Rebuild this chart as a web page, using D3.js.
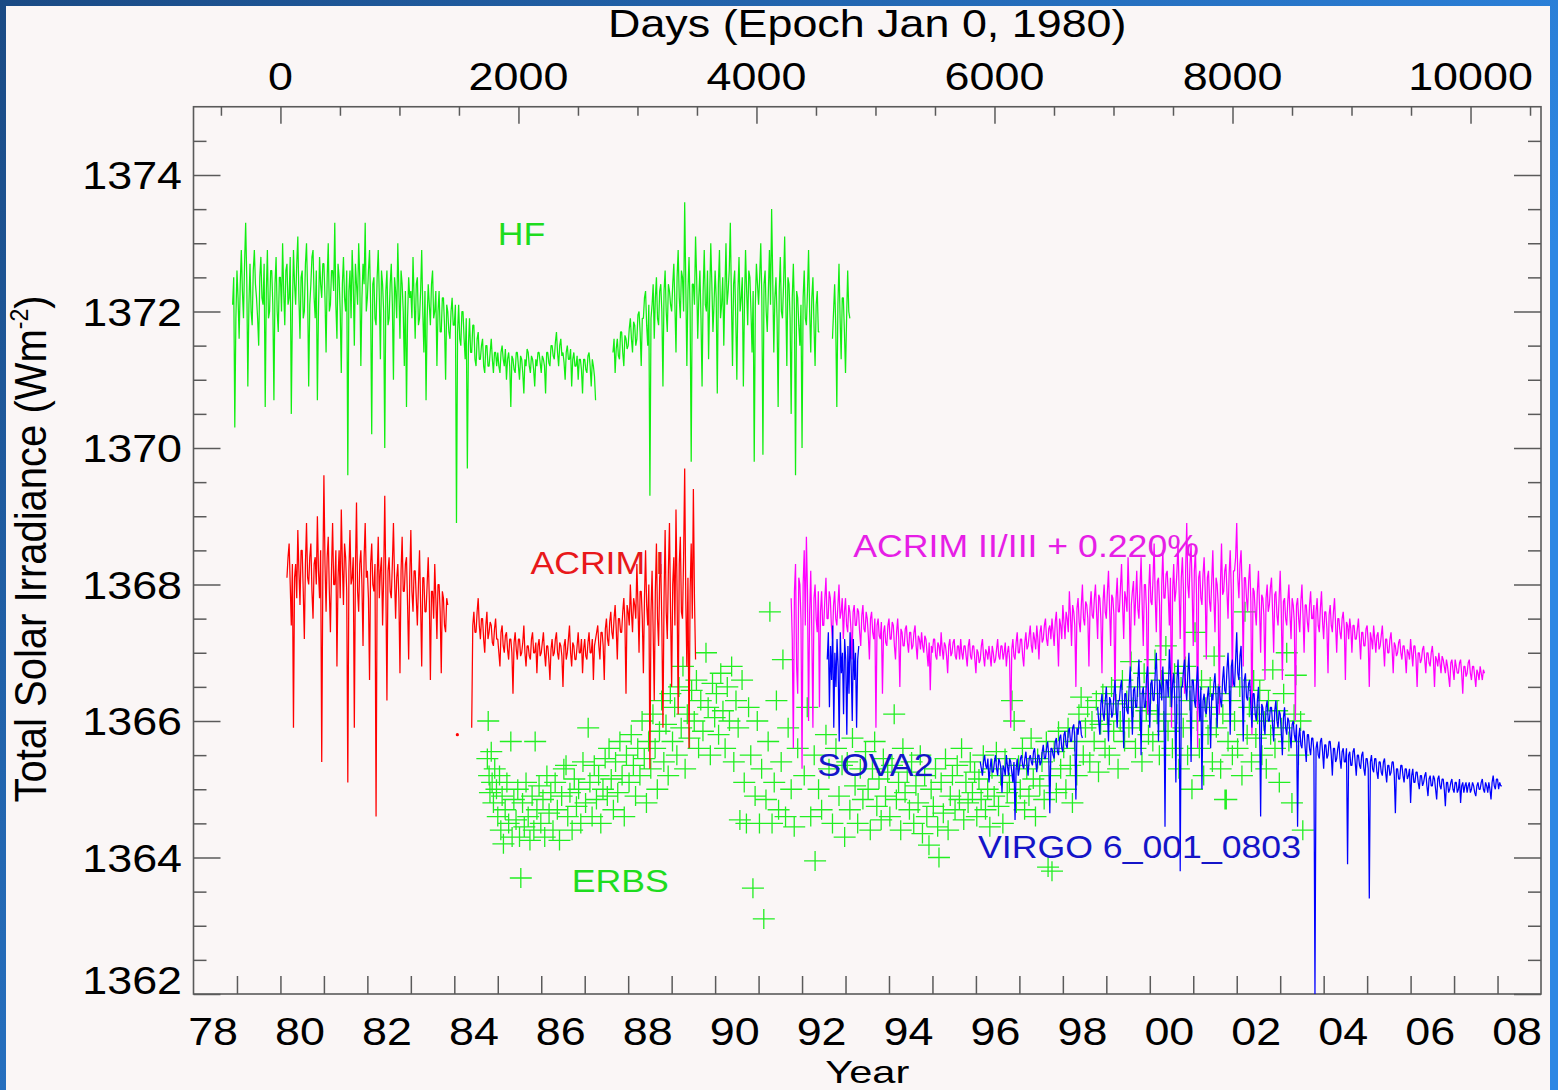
<!DOCTYPE html>
<html>
<head>
<meta charset="utf-8">
<script src="https://cdn.jsdelivr.net/npm/d3@7"></script>
<style>
  html, body { margin: 0; padding: 0; background: #ffffff; }
  svg { display: block; }
  text { font-family: "Liberation Sans", Arial, Helvetica, sans-serif; }
</style>
</head>
<body>
<svg id="chart" width="1558" height="1090"></svg>
<script>
// ---------------- axis ticks and labels ----------------
const yearTicks = d3.range(1979, 2009);
const yearLabelYears = [1978, 1980, 1982, 1984, 1986, 1988, 1990, 1992, 1994, 1996, 1998, 2000, 2002, 2004, 2006, 2008];
const yearLabels = ["78", "80", "82", "84", "86", "88", "90", "92", "94", "96", "98", "00", "02", "04", "06", "08"];
const dayMajor = [0, 2000, 4000, 6000, 8000, 10000];
const dayMinor = [-500, 500, 1000, 1500, 2500, 3000, 3500, 4500, 5000, 5500, 6500, 7000, 7500, 8500, 9000, 9500, 10500];
const irrMajor = [1362, 1364, 1366, 1368, 1370, 1372, 1374];
const irrMinor = [1362.5, 1363, 1363.5, 1364.5, 1365, 1365.5, 1366.5, 1367, 1367.5, 1368.5, 1369, 1369.5,
                  1370.5, 1371, 1371.5, 1372.5, 1373, 1373.5, 1374.5];

// ---------------- irradiance records (W m^-2) ----------------
// Evenly sampled records: first sample time (decimal year), spacing 0.025 yr.
const sampleStep = 0.025;

// Nimbus-7 HF
const hfStart = 1978.90;
const hf = [
  1372.1,1372.5, 1370.3,1371.9,
  // 1979
  1372.6,1372.2, 1371.6,1372.4, 1372.9,1372.3, 1371.9,1372.7, 1373.3,1372.5, 1370.9,1372.1, 1372.7,1372.0, 1371.8,1372.6, 1372.9,1372.4, 1372.2,1371.9, 1371.5,1372.5, 1372.8,1372.2, 1372.1,1372.7, 1370.6,1372.3, 1372.9,1371.9, 1372.0,1372.6, 1372.6,1372.1, 1370.7,1372.4, 1372.8,1372.0, 1371.7,1372.5,
  // 1980
  1372.5,1372.0, 1373.0,1372.3, 1371.8,1372.6, 1372.7,1372.1, 1372.2,1372.8, 1370.5,1372.0, 1372.9,1372.4, 1372.1,1372.7, 1373.1,1372.2, 1371.6,1372.5, 1372.6,1371.9, 1372.0,1372.7, 1373.0,1372.3, 1370.9,1372.1, 1372.4,1372.8, 1372.9,1372.2, 1371.9,1372.6, 1370.7,1372.0, 1372.8,1372.4, 1372.2,1372.7,
  // 1981
  1372.7,1372.2, 1371.4,1372.5, 1373.0,1372.0, 1372.1,1372.6, 1372.6,1372.3, 1373.3,1372.1, 1371.6,1372.7, 1372.5,1372.0, 1371.1,1372.4, 1372.8,1372.2, 1372.0,1372.6, 1369.6,1372.3, 1372.6,1371.9, 1372.9,1372.4, 1371.5,1372.7, 1372.4,1372.1, 1373.0,1372.5, 1371.2,1372.2, 1372.7,1372.4, 1373.3,1372.0,
  // 1982
  1372.2,1372.6, 1372.9,1372.1, 1370.2,1372.4, 1372.5,1371.9, 1371.8,1372.5, 1372.9,1372.2, 1371.3,1372.6, 1372.4,1372.0, 1370.0,1372.3, 1372.6,1371.8, 1371.9,1372.4, 1372.7,1372.1, 1371.0,1372.5, 1372.3,1371.9, 1373.0,1372.3, 1371.6,1372.6, 1372.4,1372.0, 1371.2,1372.3, 1370.6,1371.9, 1372.5,1372.2,
  // 1983
  1372.3,1371.9, 1372.8,1372.2, 1371.6,1372.4, 1372.5,1371.8, 1371.9,1372.3, 1372.9,1372.0, 1371.4,1372.3, 1370.7,1371.9, 1372.4,1372.1, 1371.8,1372.4, 1372.6,1371.9, 1372.0,1372.3, 1371.2,1372.0, 1372.3,1371.7, 1371.7,1372.2, 1372.2,1371.8, 1371.0,1372.1, 1372.0,1371.7, 1371.6,1372.0, 1372.2,1371.8,
  // 1984
  1371.8,1372.1, 1368.9,1371.7, 1372.1,1371.6, 1371.5,1372.0, 1372.0,1371.6, 1371.3,1371.9, 1369.7,1371.5, 1371.9,1371.4, 1371.4,1371.8, 1371.8,1371.3, 1371.2,1371.6, 1371.7,1371.3, 1371.3,1371.5, 1371.6,1371.2, 1371.1,1371.5, 1371.5,1371.2, 1371.2,1371.4, 1371.6,1371.3, 1371.1,1371.4, 1371.4,1371.2,
  // 1985
  1371.4,1371.2, 1371.1,1371.4, 1371.5,1371.3, 1371.2,1371.45, 1371.0,1371.3, 1371.4,1371.2, 1370.6,1371.35, 1371.3,1371.15, 1371.1,1371.4, 1371.4,1371.2, 1371.0,1371.35, 1371.3,1371.1, 1370.8,1371.3, 1371.2,1371.45, 1371.4,1371.2, 1371.1,1371.35, 1371.3,1371.15, 1370.9,1371.3, 1371.2,1371.4, 1371.4,1371.25,
  // 1986
  1371.1,1371.35, 1371.3,1371.2, 1370.8,1371.4, 1371.4,1371.25, 1371.2,1371.5, 1371.5,1371.35, 1371.3,1371.55, 1371.7,1371.4, 1371.2,1371.5, 1371.6,1371.35, 1371.4,1371.25, 1371.0,1371.4, 1371.5,1371.3, 1371.3,1371.45, 1370.9,1371.3, 1371.4,1371.2, 1371.2,1371.35, 1371.0,1371.3, 1371.3,1371.15, 1370.8,1371.3,
  // 1987 (data gap in spring/summer)
  1371.3,1371.15, 1371.1,1371.35, 1371.4,1371.2, 1370.9,1371.3, 1371.2,1371.05, 1370.7,null,
  null,null, null,null, null,null, null,null, null,null, null,null, null,null,
  1371.4,1371.6, 1371.1,1371.45, 1371.6,1371.35, 1371.3,1371.7, 1371.7,1371.4, 1371.2,1371.65, 1371.6,1371.45,
  // 1988
  1371.5,1371.75, 1371.9,1371.6, 1371.4,1371.85, 1371.8,1371.5, 1371.6,1371.95, 1372.0,1371.7, 1371.2,1371.9, 1371.9,1372.2, 1372.3,1371.8, 1371.5,1372.1, 1369.3,1371.9, 1372.1,1372.4, 1371.6,1372.2, 1372.5,1371.9, 1371.8,1372.3, 1372.4,1372.0, 1370.9,1372.3, 1372.6,1372.0, 1371.7,1372.4, 1372.3,1372.1,
  // 1989
  1372.0,1372.4, 1372.7,1372.1, 1371.4,1372.5, 1372.9,1372.2, 1371.9,1372.6, 1372.5,1372.0, 1373.6,1372.4, 1371.2,1372.3, 1372.8,1372.0, 1369.8,1372.4, 1372.4,1372.1, 1373.1,1372.5, 1371.6,1372.2, 1372.6,1371.9, 1370.9,1372.3, 1372.9,1372.1, 1372.0,1372.6, 1371.3,1372.2, 1373.0,1372.4, 1371.7,1372.1,
  // 1990
  1372.6,1372.2, 1370.8,1372.4, 1372.9,1371.9, 1372.1,1372.5, 1371.5,1372.3, 1373.0,1372.1, 1372.3,1372.6, 1373.3,1372.2, 1371.2,1372.4, 1372.6,1371.9, 1371.0,1372.3, 1372.8,1372.0, 1372.2,1372.5, 1370.9,1372.1, 1372.9,1372.3, 1371.8,1372.6, 1372.5,1372.0, 1371.4,1372.3, 1369.8,1372.1, 1372.7,1372.4,
  // 1991
  1372.1,1372.5, 1373.0,1372.2, 1369.9,1372.4, 1372.6,1372.0, 1371.7,1372.3, 1372.9,1372.1, 1373.5,1372.5, 1371.4,1372.2, 1372.5,1371.9, 1370.6,1372.3, 1372.8,1372.0, 1371.9,1372.4, 1373.1,1372.2, 1371.2,1372.5, 1372.4,1371.9, 1370.5,1372.2, 1372.7,1372.0, 1369.6,1372.3, 1372.2,1371.8, 1371.5,1372.1,
  // 1992 (data gap in summer)
  1370.0,1372.2, 1372.6,1371.9, 1371.8,1372.3, 1372.9,1372.0, 1371.4,1372.2, 1372.5,1371.8, 1371.2,1372.1, 1372.3,1371.7, 1371.7,null,
  null,null, null,null, null,null, null,null, null,null,
  1371.6,1372.0, 1372.4,1371.8, 1370.6,1372.1, 1372.7,1371.9, 1371.3,1372.2, 1372.2,1371.7,
  // 1993
  1371.1,1371.9, 1372.6,1372.0, 1371.9
];

// ACRIM I (two operating periods)
const acrim1aStart = 1980.15;
const acrim1a = [
  1368.1,1368.4, 1368.6,1368.0, 1367.4,1368.3, 1365.9,1368.1, 1368.3,1367.8, 1368.8,1368.2, 1367.7,1368.5, 1368.5,1367.9, 1367.2,1368.3, 1368.9,1368.1,
  1368.0,1368.4, 1368.6,1367.9, 1367.5,1368.3, 1368.4,1368.0, 1369.0,1368.2, 1367.8,1368.5, 1365.4,1368.1, 1369.6,1368.3, 1367.6,1368.4, 1368.7,1367.9,
  1367.3,1368.2, 1368.9,1368.0, 1368.0,1368.5, 1366.8,1368.1, 1368.5,1367.8, 1369.1,1368.3, 1367.7,1368.6, 1368.4,1367.9, 1365.1,1368.2, 1368.8,1368.0,
  1368.1,1368.4, 1365.9,1368.2, 1369.2,1367.9, 1367.6,1368.3, 1368.5,1368.0, 1367.1,1368.4, 1368.9,1368.1, 1368.2,1367.8, 1366.6,1368.3, 1368.6,1368.0,
  1367.9,1368.3, 1364.6,1368.1, 1368.7,1367.8, 1368.2,1368.4, 1367.4,1368.1, 1369.3,1368.0, 1366.3,1368.2, 1368.4,1367.9, 1367.8,1368.3, 1368.9,1368.1,
  1367.5,1368.1, 1368.3,1367.8, 1366.7,1368.2, 1368.7,1367.9, 1367.9,1368.3, 1368.4,1367.7, 1366.9,1368.1, 1368.8,1367.9, 1367.6,1368.2, 1368.2,1367.8,
  1367.4,1368.0, 1368.5,1367.7, 1366.8,1368.1, 1368.1,1367.6, 1367.6,1368.0, 1368.4,1367.8, 1366.6,1367.9, 1367.9,1367.5, 1368.3,1367.8, 1367.2,1368.0,
  1368.0,1367.6, 1366.7,1367.9, 1367.8,1367.4, 1367.3,1367.8, 1367.7
];
const acrim1bStart = 1984.40;
const acrim1b = [
  1365.9,1367.4, 1367.6,1367.3, 1367.3,1367.6, 1367.8,1367.4, 1367.2,1367.5, 1367.5,1367.2, 1367.0,1367.4, 1367.6,1367.2, 1367.3,1367.45, 1367.4,1367.15,
  1367.1,1367.35, 1367.5,1367.2, 1367.2,1367.0, 1366.8,1367.3, 1367.4,1367.1, 1367.0,1367.25, 1367.3,1367.05, 1366.9,1367.2, 1367.2,1367.0, 1366.4,1367.15,
  1367.3,1367.05, 1366.9,1367.2, 1367.2,1366.95, 1367.0,1367.15, 1367.4,1367.0, 1366.8,1367.1, 1367.1,1366.95, 1366.9,1367.2, 1367.3,1367.0, 1367.0,1367.15,
  1366.7,1367.1, 1367.2,1366.95, 1367.0,1367.15, 1367.3,1367.0, 1366.8,1367.1, 1367.1,1366.9, 1366.6,1367.05, 1367.2,1366.95, 1367.0,1367.2, 1367.3,1367.0,
  1366.9,1367.15, 1367.1,1366.95, 1366.5,1367.1, 1367.2,1366.9, 1367.0,1367.2, 1367.4,1367.0, 1366.8,1367.15, 1367.1,1366.9, 1366.9,1367.1, 1367.3,1367.0,
  1367.0,1367.2, 1366.7,1367.05, 1367.2,1366.95, 1366.9,1367.15, 1367.3,1367.0, 1367.0,1367.2, 1366.6,1367.1, 1367.2,1367.3, 1367.4,1367.1, 1366.9,1367.3,
  1367.3,1367.1, 1366.6,1367.35, 1367.5,1367.2, 1367.1,1367.45, 1367.6,1367.3, 1367.2,1367.5, 1367.7,1367.35, 1366.9,1367.5, 1367.5,1367.3, 1367.3,1367.6,
  1367.8,1367.45, 1366.4,1367.7, 1367.6,1367.4, 1368.0,1367.6, 1367.3,1367.8, 1367.7,1367.5, 1368.3,1367.7, 1367.0,1367.9, 1367.9,1367.5, 1366.7,1367.8,
  1368.5,1367.7, 1367.4,1368.0, 1365.3,1367.6, 1368.2,1367.3, 1366.3,1367.9, 1368.6,1367.5, 1367.1,1368.1, 1368.3,1367.4, 1365.9,1367.8, 1368.8,1367.6,
  1367.2,1368.2, 1368.9,1367.6, 1366.5,1368.0, 1368.4,1367.4, 1369.1,1367.9, 1366.1,1368.3, 1368.7,1367.6, 1367.5,1368.4, 1369.7,1367.8, 1366.8,1368.1,
  1365.6,1367.9, 1368.6,1367.5, 1369.4,1367.8, 1366.9
];
const acrim1Stray = [[1984.07, 1365.8]];

// ACRIM II / ACRIM III, raised by 0.220 %
const acrim23Start = 1991.75;
const acrim23 = [
  1367.8,1367.2, 1365.6,1367.9, 1368.3,1366.8, 1366.4,1368.1, 1368.0,1367.5, 1365.3,1368.0, 1368.5,1367.4, 1368.7,1367.9, 1366.0,1367.6, 1368.2,1367.3, 1365.9,1367.8, 1368.0,1367.5, 1367.3,1367.9, 1366.2,1367.6, 1367.9,1367.4, 1367.4,1367.8, 1368.1,1367.5, 1367.5,1367.9, 1367.8,1367.4, 1367.2,1367.7,
  1367.9,1367.5, 1367.4,1367.7, 1368.0,1367.5, 1367.6,1367.8, 1367.2,1367.6, 1367.8,1367.4, 1367.3,1367.7, 1367.6,1367.35, 1366.9,1367.6, 1367.7,1367.4, 1367.4,1367.65, 1367.6,1367.3, 1367.1,1367.55, 1367.7,1367.35, 1367.3,1367.6, 1367.5,1367.25, 1366.9,1367.5, 1367.6,1367.3, 1367.2,1367.5, 1365.9,1367.4,
  1367.5,1367.25, 1367.2,1367.45, 1366.4,1367.3, 1367.4,1367.15, 1367.1,1367.4, 1367.5,1367.2, 1367.2,1367.45, 1367.4,1367.1, 1366.9,1367.3, 1367.5,1367.2, 1366.5,1367.35, 1367.3,1367.1, 1367.1,1367.35, 1367.4,1367.15, 1367.0,1367.3, 1367.3,1367.05, 1367.1,1367.3, 1367.4,1367.1, 1366.9,1367.25, 1367.2,1367.05,
  1367.3,1367.1, 1367.0,1367.25, 1367.2,1367.0, 1366.8,1367.15, 1366.45,1367.1, 1367.0,1367.2, 1367.2,1366.95, 1366.9,1367.15, 1367.1,1366.95, 1367.3,1367.05, 1366.9,1367.15, 1367.1,1366.95, 1366.7,1367.1, 1367.2,1366.95, 1367.0,1367.15, 1367.2,1366.95, 1366.9,1367.1, 1367.1,1366.9, 1367.2,1367.0, 1366.9,1367.1,
  1367.1,1366.95, 1366.8,1367.1, 1367.2,1366.95, 1366.9,1367.1, 1367.1,1366.9, 1366.7,1367.05, 1367.0,1366.85, 1366.9,1367.1, 1367.2,1366.95, 1366.8,1367.05, 1367.0,1366.9, 1367.1,1366.95, 1366.8,1367.1, 1367.0,1366.85, 1366.9,1367.05, 1367.2,1366.95, 1366.9,1367.1, 1367.1,1366.9, 1367.0,1367.15, 1366.8,1367.0,
  1367.1,1366.9, 1365.9,1367.05, 1367.2,1366.95, 1366.9,1367.15, 1367.3,1367.0, 1367.0,1367.2, 1367.2,1366.95, 1366.8,1367.15, 1367.3,1367.05, 1367.1,1367.25, 1367.4,1367.1, 1367.0,1367.3, 1367.2,1367.05, 1367.4,1367.2, 1366.9,1367.3, 1367.4,1367.15, 1367.2,1367.4, 1367.5,1367.2, 1367.1,1367.35, 1367.4,1367.2,
  1367.5,1367.3, 1367.1,1367.45, 1367.6,1367.25, 1366.8,1367.5, 1367.4,1367.2, 1367.7,1367.45, 1367.2,1367.6, 1367.5,1367.3, 1367.9,1367.55, 1367.1,1367.7, 1367.6,1367.4, 1366.5,1367.65, 1367.8,1367.45, 1367.3,1367.7, 1368.0,1367.5, 1367.4,1367.75, 1367.7,1367.5, 1366.8,1367.65, 1367.9,1367.55, 1367.5,1367.8,
  1368.0,1367.6, 1367.2,1367.85, 1367.8,1367.5, 1366.7,1367.75, 1368.0,1367.6, 1367.5,1367.9, 1368.2,1367.65, 1367.1,1367.85, 1367.8,1367.55, 1366.3,1367.8, 1368.1,1367.6, 1367.6,1367.95, 1368.3,1367.7, 1367.2,1367.9, 1367.8,1367.6, 1368.4,1367.85, 1366.8,1367.7, 1367.9,1368.05, 1367.4,1367.8, 1368.2,1367.65,
  1367.5,1367.95, 1368.4,1367.7, 1367.1,1368.0, 1368.0,1367.6, 1366.1,1367.9, 1368.3,1367.75, 1367.7,1368.1, 1368.6,1367.8, 1367.3,1368.05, 1368.1,1367.7, 1366.6,1368.0, 1368.5,1367.8, 1367.8,1368.15, 1368.2,1367.85, 1367.4,1368.1, 1365.9,1367.9, 1368.3,1367.75, 1367.9,1368.2, 1368.6,1367.9, 1367.2,1368.1,
  1368.4,1367.9, 1366.4,1368.2, 1368.9,1368.0, 1367.8,1368.3, 1368.6,1367.9, 1367.1,1368.2, 1368.5,1367.85, 1365.6,1368.1, 1368.2,1367.8, 1367.7,1368.15, 1368.4,1367.9, 1366.9,1368.1, 1368.2,1367.75, 1367.6,1368.05, 1368.5,1367.8, 1367.3,1368.1, 1368.0,1367.7, 1366.1,1368.0, 1368.6,1367.85, 1367.9,1368.2,
  1368.3,1367.9, 1367.5,1368.15, 1368.5,1367.9, 1366.5,1368.2, 1368.2,1368.4, 1368.9,1368.1, 1367.8,1368.3, 1368.5,1367.95, 1366.8,1368.1, 1368.1,1367.8, 1367.6,1368.05, 1368.3,1367.75, 1365.8,1367.95, 1367.9,1367.6, 1367.4,1367.9, 1368.2,1367.65, 1367.0,1367.85, 1367.8,1367.55, 1366.6,1367.8, 1368.0,1367.6,
  1367.7,1367.95, 1368.1,1367.6, 1367.0,1367.85, 1367.9,1367.55, 1367.4,1367.8, 1368.2,1367.6, 1366.6,1367.75, 1367.8,1367.5, 1367.4,1367.75, 1368.0,1367.55, 1367.2,1367.8, 1367.7,1367.45, 1366.0,1367.7, 1367.8,1367.5, 1367.3,1367.75, 1368.0,1367.55, 1367.0,1367.7, 1367.7,1367.45, 1367.3,1367.7, 1367.9,1367.5,
  1367.5,1367.7, 1366.5,1367.6, 1367.8,1367.4, 1367.3,1367.65, 1367.9,1367.45, 1367.2,1367.6, 1367.6,1367.35, 1366.7,1367.55, 1367.7,1367.4, 1367.3,1367.6, 1367.8,1367.4, 1367.0,1367.5, 1367.5,1367.3, 1367.2,1367.5, 1367.6,1367.35, 1366.6,1367.45, 1367.4,1367.2, 1367.5,1367.35, 1367.0,1367.4, 1367.4,1367.2,
  1367.2,1367.35, 1367.5,1367.2, 1366.9,1367.3, 1367.3,1367.1, 1367.1,1367.35, 1367.4,1367.15, 1366.5,1367.3, 1367.2,1367.05, 1367.4,1367.2, 1367.0,1367.25, 1367.3,1367.05, 1367.1,1367.25, 1367.4,1367.1, 1366.8,1367.2, 1367.2,1367.0, 1367.0,1367.2, 1367.3,1367.05, 1366.7,1367.15, 1367.1,1366.95, 1367.0,1367.15,
  1367.2,1367.0, 1366.9,1367.1, 1367.1,1366.95, 1366.7,1367.05, 1367.0,1366.9, 1367.2,1367.0, 1366.8,1367.1, 1367.1,1366.9, 1366.5,1367.0, 1367.0,1366.85, 1366.9,1367.05, 1367.1,1366.9, 1366.7,1367.0, 1367.0,1366.85, 1366.8,1367.0, 1367.1,1366.9, 1366.5,1366.95, 1366.9,1366.8, 1367.0,1366.85, 1366.7,1366.95,
  1366.9,1366.8, 1366.7,1366.9, 1366.8,1366.65, 1366.5,1366.85, 1366.9,1366.75, 1366.6,1366.9, 1366.8,1366.7, 1366.7,1366.85, 1366.9,1366.7, 1366.4,1366.8, 1366.8,1366.65, 1366.7,1366.85, 1366.9,1366.7, 1366.6,1366.8, 1366.8,1366.65, 1366.5,1366.75, 1366.7,1366.6, 1366.8,1366.7, 1366.6,1366.75, 1366.7
];

// SOVA2 (EURECA)
const sova2Start = 1992.58;
const sova2 = [
  1366.9, 1367.3, 1366.2, 1367.1, 1366.6, 1367.4, 1365.9, 1367.0, 1366.5, 1367.2,
  1366.8, 1365.7, 1367.3, 1366.7, 1367.0, 1366.1, 1367.2, 1366.9, 1365.8, 1367.1,
  1366.4, 1367.3, 1366.8, 1366.0, 1367.2, 1366.6, 1367.0, 1365.9, 1366.9, 1367.1
];

// VIRGO composite, version 6_001_0803
const virgoStart = 1996.10;
const virgo = [
  1365.4,1365.3, 1365.2,1365.4, 1365.5,1365.35, 1365.3,1365.45, 1365.1,1365.3, 1365.45,1365.25, 1365.25,1365.4, 1365.5,1365.3, 1365.2,1365.45, 1365.4,1365.3,
  1364.95,1365.35, 1365.3,1365.2, 1365.5,1365.35, 1365.2,1365.45, 1365.4,1365.25, 1365.1,1365.4, 1364.55,1365.3, 1365.45,1365.2, 1365.3,1365.45, 1365.5,1365.35,
  1365.3,1365.45, 1365.55,1365.35, 1365.2,1365.45, 1365.5,1365.4, 1365.35,1365.55, 1365.6,1365.4, 1365.25,1365.5, 1365.5,1365.35, 1365.4,1365.55, 1365.65,1365.45,
  1365.45,1365.6, 1365.7,1365.5, 1364.65,1365.6, 1365.6,1365.5, 1365.45,1365.7, 1365.75,1365.55, 1365.5,1365.75, 1365.8,1365.6, 1365.55,1365.8, 1365.85,1365.65,
  1365.6,1365.85, 1365.9,1365.7, 1365.7,1365.9, 1365.95,1365.75, 1364.85,1365.9, 1365.8,1366.0, 1366.0,1365.8, 1365.75,null,
  // spacecraft outage 1998
  null,null, null,null, null,null, null,null, null,null, null,null,
  1366.2,1366.0, 1365.8,1366.25, 1366.4,1366.1, 1366.0,1366.3, 1366.5,1366.15, 1365.7,1366.35, 1366.3,1366.05, 1366.1,1366.4, 1366.6,1366.2, 1365.9,1366.3,
  1366.3,1366.5, 1366.6,1366.2, 1365.6,1366.4, 1366.4,1366.15, 1366.1,1366.5, 1366.8,1366.3, 1365.8,1366.45, 1366.5,1366.2, 1366.2,1366.6, 1366.9,1366.35,
  1365.5,1366.4, 1366.5,1366.2, 1366.2,1366.65, 1366.8,1366.35, 1365.9,1366.55, 1366.6,1366.3, 1366.3,1366.7, 1367.0,1366.45, 1365.7,1366.6, 1366.5,1366.3,
  1366.8,1366.4, 1364.45,1366.6, 1366.6,1366.35, 1367.05,1366.7, 1366.2,1366.55, 1366.7,1366.3, 1365.1,1366.6, 1366.9,1366.4, 1363.8,1366.5, 1366.5,1366.75,
  1366.9,1366.5, 1366.3,1366.7, 1367.0,1366.45, 1365.4,1366.6, 1366.6,1366.3, 1366.2,1366.55, 1366.8,1366.35, 1366.0,1366.5, 1365.0,1366.3, 1366.4,1366.15,
  1366.1,1366.35, 1366.5,1366.2, 1365.6,1366.4, 1366.3,1366.55, 1366.7,1366.35, 1365.9,1366.5, 1366.5,1366.3, 1366.2,1366.6, 1366.8,1366.45, 1366.4,1366.75,
  1367.0,1366.6, 1365.8,1366.8, 1366.9,1366.55, 1366.5,1366.9, 1367.3,1366.7, 1366.6,1366.95, 1367.1,1366.5, 1365.7,1366.6, 1366.7,1366.35, 1366.3,1366.55,
  1366.6,1366.2, 1365.9,1366.4, 1366.4,1366.1, 1366.0,1366.3, 1366.5,1366.05, 1364.6,1366.25, 1366.2,1365.95, 1365.8,1366.2, 1366.3,1366.0, 1366.0,1366.2,
  1366.2,1365.95, 1365.7,1366.15, 1366.3,1366.0, 1365.9,1366.15, 1366.1,1365.85, 1365.5,1366.05, 1366.2,1365.9, 1365.8,1366.05, 1366.0,1365.8, 1365.6,1365.95,
  1366.0,1365.8, 1365.7,1365.95, 1364.45,1365.75, 1365.9,1365.65, 1365.6,1365.85, 1365.85,1365.6, 1365.4,1365.8, 1365.8,1365.6, 1365.5,1365.75, 1365.75,1365.55,
  1362.0,1365.6, 1365.7,1365.5, 1365.45,1365.7, 1365.75,1365.55, 1365.3,1365.65, 1365.65,1365.45, 1365.5,1365.7, 1365.7,1365.5, 1365.2,1365.6, 1365.6,1365.4,
  1365.45,1365.6, 1365.7,1365.45, 1365.3,1365.55, 1365.6,1365.4, 1365.4,1365.6, 1363.9,1365.5, 1365.55,1365.35, 1365.35,1365.55, 1365.6,1365.4, 1365.2,1365.5,
  1365.5,1365.35, 1365.3,1365.5, 1365.55,1365.3, 1365.2,1365.45, 1365.45,1365.3, 1363.4,1365.4, 1365.5,1365.3, 1365.25,1365.45, 1365.45,1365.25, 1365.15,1365.4,
  1365.4,1365.25, 1365.2,1365.4, 1365.45,1365.25, 1365.1,1365.35, 1365.35,1365.2, 1365.25,1365.4, 1365.4,1365.2, 1364.65,1365.3, 1365.3,1365.15, 1365.15,1365.35,
  1365.35,1365.2, 1365.1,1365.3, 1365.3,1365.15, 1365.2,1365.3, 1364.8,1365.2, 1365.3,1365.1, 1365.1,1365.25, 1365.25,1365.1, 1365.0,1365.2, 1365.2,1365.05,
  1365.1,1365.2, 1365.25,1365.05, 1364.9,1365.15, 1365.2,1365.05, 1365.05,1365.2, 1365.15,1365.0, 1364.85,1365.15, 1365.2,1365.05, 1365.0,1365.15, 1365.15,1365.0,
  1364.75,1365.1, 1365.1,1364.95, 1365.0,1365.1, 1365.15,1365.0, 1364.95,1365.1, 1365.1,1364.95, 1365.0,1365.15, 1364.8,1365.05, 1365.1,1364.95, 1365.05,1365.1,
  1364.95,1365.05, 1365.1,1364.95, 1365.0,1365.1, 1365.05,1364.95, 1364.9,1365.05, 1365.1,1365.0, 1365.0,1365.1, 1365.15,1365.0, 1364.95,1365.1, 1365.05,1364.95,
  1365.1,1365.0, 1364.85,1365.1, 1365.2,1365.05, 1365.0,1365.15, 1365.15,1365.0, 1365.1,1365.05, 1365.05
];

// ERBS individual measurements: [decimal year, irradiance]
const erbs = [
  [1984.76,1365.45],[1984.78,1366.0],[1984.80,1365.2],[1984.82,1364.95],[1984.85,1365.55],[1984.87,1365.1],[1984.90,1364.8],[1984.93,1365.3],[1984.97,1365.0],[1985.00,1364.6],
  [1985.04,1365.2],[1985.07,1364.4],[1985.10,1364.9],[1985.13,1364.2],[1985.17,1364.7],[1985.21,1365.1],[1985.25,1364.5],[1985.30,1365.7],[1985.33,1364.3],[1985.37,1364.85],[1985.42,1364.55],[1985.46,1365.0],[1985.50,1364.3],[1985.53,1363.7],
  [1985.57,1364.8],[1985.61,1364.45],[1985.65,1365.1],[1985.70,1364.6],[1985.74,1364.25],[1985.79,1364.9],[1985.83,1364.4],[1985.86,1365.7],[1985.90,1364.7],[1985.95,1365.05],[1985.99,1364.5],
  [1986.04,1364.85],[1986.08,1364.3],[1986.13,1365.2],[1986.18,1364.65],[1986.22,1364.95],[1986.27,1364.4],[1986.32,1365.1],[1986.37,1364.7],[1986.42,1364.25],[1986.47,1364.9],
  [1986.52,1365.3],[1986.57,1365.35],[1986.61,1364.6],[1986.66,1364.95],[1986.71,1364.4],[1986.76,1365.15],[1986.81,1364.75],[1986.86,1365.0],[1986.91,1364.5],[1986.96,1365.4],
  [1987.02,1364.8],[1987.08,1365.9],[1987.12,1365.1],[1987.17,1364.6],[1987.22,1365.35],[1987.27,1364.85],[1987.32,1365.2],[1987.37,1364.5],[1987.42,1365.0],[1987.47,1365.45],
  [1987.52,1364.9],[1987.56,1365.6],[1987.61,1365.15],[1987.66,1364.7],[1987.71,1365.4],[1987.76,1364.95],[1987.81,1365.7],[1987.86,1365.2],[1987.91,1364.6],[1987.96,1365.5],
  [1988.02,1365.1],[1988.07,1365.8],[1988.12,1365.35],[1988.17,1364.9],[1988.22,1365.6],[1988.27,1365.2],[1988.32,1366.0],[1988.37,1365.45],[1988.42,1364.8],[1988.47,1365.7],
  [1988.52,1365.3],[1988.57,1366.1],[1988.62,1365.6],[1988.67,1365.0],[1988.72,1365.85],[1988.77,1366.3],[1988.82,1365.4],[1988.87,1365.95],[1988.92,1365.2],[1988.97,1366.4],
  [1989.02,1365.7],[1989.07,1366.2],[1989.12,1365.5],[1989.17,1366.5],[1989.22,1365.9],[1989.26,1366.8],[1989.31,1365.3],[1989.36,1366.1],[1989.41,1365.75],[1989.46,1366.45],
  [1989.52,1366.0],[1989.57,1366.6],[1989.62,1365.6],[1989.67,1366.3],[1989.72,1365.85],[1989.79,1367.0],[1989.84,1366.2],[1989.89,1365.5],[1989.94,1366.55],[1989.99,1366.05],
  [1990.03,1366.4],[1990.08,1365.8],[1990.13,1366.7],[1990.18,1366.15],[1990.23,1365.6],[1990.28,1366.5],[1990.33,1366.0],[1990.38,1366.8],[1990.43,1365.4],[1990.48,1366.3],
  [1990.53,1365.9],[1990.57,1364.55],[1990.62,1366.6],[1990.67,1365.1],[1990.72,1364.5],[1990.77,1366.2],[1990.82,1365.5],[1990.87,1363.55],[1990.92,1364.9],[1990.97,1366.0],
  [1991.02,1364.5],[1991.07,1365.3],[1991.12,1363.1],[1991.17,1364.85],[1991.22,1365.7],[1991.26,1367.6],[1991.31,1364.5],[1991.36,1365.1],[1991.41,1366.3],[1991.46,1364.7],
  [1991.52,1365.4],[1991.56,1366.9],[1991.62,1364.6],[1991.68,1365.9],[1991.75,1365.0],[1991.82,1364.45],[1991.90,1365.6],
  [1992.05,1365.2],[1992.12,1366.2],[1992.20,1364.6],[1992.28,1365.5],[1992.30,1363.95],[1992.38,1365.0],[1992.45,1364.7],
  [1992.55,1365.8],[1992.62,1365.3],[1992.70,1364.5],[1992.78,1365.6],[1992.85,1364.9],[1992.92,1365.35],[1992.98,1364.3],
  [1993.04,1365.4],[1993.10,1364.7],[1993.16,1365.75],[1993.22,1365.05],[1993.28,1364.5],[1993.34,1365.3],[1993.40,1364.85],[1993.46,1365.55],
  [1993.52,1365.0],[1993.57,1364.4],[1993.62,1365.3],[1993.67,1365.7],[1993.72,1364.75],[1993.77,1365.15],[1993.82,1364.55],[1993.87,1365.45],[1993.92,1364.9],[1993.97,1365.25],
  [1994.02,1364.6],[1994.07,1365.35],[1994.12,1366.1],[1994.17,1364.85],[1994.22,1365.1],[1994.27,1364.4],[1994.32,1365.6],[1994.37,1364.95],[1994.42,1365.25],[1994.47,1364.7],
  [1994.52,1365.4],[1994.57,1364.5],[1994.62,1365.05],[1994.67,1364.8],[1994.72,1365.5],[1994.77,1364.35],[1994.82,1365.2],[1994.87,1364.6],[1994.92,1364.18],[1994.97,1365.0],
  [1995.02,1364.75],[1995.07,1365.3],[1995.12,1364.45],[1995.15,1364.0],[1995.20,1365.1],[1995.25,1364.65],[1995.30,1365.45],[1995.36,1364.4],[1995.41,1364.9],[1995.46,1365.2],
  [1995.52,1364.7],[1995.57,1365.35],[1995.62,1364.85],[1995.67,1365.6],[1995.72,1364.55],[1995.77,1365.1],[1995.82,1364.8],[1995.87,1365.4],[1995.92,1364.95],[1995.97,1365.25],
  [1996.02,1364.6],[1996.07,1365.15],[1996.12,1364.85],[1996.17,1365.5],[1996.22,1364.7],[1996.27,1365.0],[1996.32,1364.45],[1996.37,1365.3],[1996.42,1364.9],[1996.47,1365.55],
  [1996.52,1364.75],[1996.57,1365.2],[1996.62,1364.5],[1996.67,1365.45],[1996.72,1364.95],[1996.77,1365.1],[1996.83,1366.3],[1996.88,1366.0],[1996.93,1364.8],[1996.98,1365.35],
  [1997.02,1365.0],[1997.07,1365.6],[1997.12,1364.7],[1997.17,1365.3],[1997.22,1364.9],[1997.27,1365.75],[1997.32,1365.15],[1997.37,1364.6],[1997.42,1365.45],[1997.47,1365.05],
  [1997.52,1365.4],[1997.57,1364.85],[1997.62,1365.7],[1997.66,1363.86],[1997.71,1365.2],[1997.75,1363.8],[1997.80,1365.55],[1997.85,1364.95],[1997.90,1365.85],[1997.95,1365.3],
  [1998.02,1365.6],[1998.07,1365.0],[1998.12,1365.9],[1998.17,1365.35],[1998.22,1364.8],[1998.27,1365.7],[1998.32,1365.2],[1998.37,1366.1],[1998.42,1366.35],[1998.47,1365.5],
  [1998.52,1365.9],[1998.57,1366.2],[1998.62,1365.4],[1998.67,1366.0],[1998.72,1365.7],[1998.77,1366.3],[1998.82,1365.25],[1998.87,1365.95],[1998.92,1366.4],[1998.97,1365.6],
  [1999.02,1366.1],[1999.07,1365.5],[1999.12,1366.5],[1999.17,1365.85],[1999.22,1366.25],[1999.27,1365.3],[1999.32,1366.0],[1999.37,1366.6],[1999.42,1365.7],[1999.47,1366.3],
  [1999.52,1365.9],[1999.57,1366.87],[1999.62,1366.2],[1999.67,1365.6],[1999.72,1366.5],[1999.77,1366.0],[1999.82,1365.4],[1999.87,1366.7],[1999.92,1366.15],[1999.97,1365.8],
  [2000.02,1366.4],[2000.07,1365.7],[2000.12,1366.9],[2000.17,1366.1],[2000.22,1365.5],[2000.27,1366.6],[2000.32,1366.0],[2000.37,1367.1],[2000.42,1365.85],[2000.47,1366.35],
  [2000.52,1365.6],[2000.57,1366.7],[2000.62,1366.1],[2000.67,1365.3],[2000.72,1366.5],[2000.77,1365.9],[2000.82,1366.8],[2000.87,1365.5],[2000.92,1366.3],[2000.97,1365.0],
  [2001.04,1367.3],[2001.09,1366.0],[2001.14,1365.6],[2001.19,1366.6],[2001.24,1365.2],[2001.29,1366.2],[2001.34,1365.8],[2001.39,1366.5],[2001.44,1365.4],[2001.48,1366.95],
  [2001.53,1365.9],[2001.58,1366.4],[2001.63,1365.3],[2001.68,1366.1],[2001.73,1364.85],[2001.76,1364.85],[2001.80,1365.7],[2001.85,1366.3],[2001.90,1365.5],[2001.95,1366.0],
  [2002.02,1365.6],[2002.07,1366.5],[2002.12,1365.2],[2002.19,1367.6],[2002.24,1365.8],[2002.29,1366.2],[2002.34,1365.4],[2002.39,1366.6],[2002.44,1365.75],[2002.48,1366.1],
  [2002.53,1366.45],[2002.58,1365.5],[2002.63,1366.0],[2002.68,1365.3],[2002.73,1366.3],[2002.78,1365.8],[2002.83,1366.75],[2002.88,1365.6],[2002.93,1366.15],[2002.98,1365.1],
  [2003.03,1365.9],[2003.08,1366.4],[2003.15,1367.0],[2003.20,1365.7],[2003.27,1364.8],[2003.32,1366.1],[2003.36,1366.67],[2003.42,1365.5],[2003.47,1366.0],[2003.52,1364.4]
];

// Series names drawn inside the plot
const seriesNames = ["HF", "ACRIM I", "ACRIM II/III + 0.220%", "SOVA2", "VIRGO 6_001_0803", "ERBS"];

// ---------------- drawing ----------------
const W = 1558, H = 1090;
const plot = { left: 193.5, right: 1541, top: 106.75, bottom: 994 };
const svg = d3.select("#chart");

const x = d3.scaleLinear().domain([1978, 2009]).range([plot.left, plot.right]);
const daysPerYear = 365.25;
const xDays = d3.scaleLinear()
  .domain([(1978 - 1980) * daysPerYear, (2009 - 1980) * daysPerYear])
  .range([plot.left, plot.right]);
const y = d3.scaleLinear().domain([1362, 1375]).range([plot.bottom, plot.top]);

// frame background
const defs = svg.append("defs");
const grad = defs.append("linearGradient").attr("id", "frameGrad")
  .attr("gradientUnits", "userSpaceOnUse")
  .attr("x1", 0).attr("y1", 0).attr("x2", 900).attr("y2", 900);
grad.append("stop").attr("offset", 0).attr("stop-color", "#1a4a84");
grad.append("stop").attr("offset", 1).attr("stop-color", "#2d87e4");
svg.append("rect").attr("width", W).attr("height", H).attr("fill", "url(#frameGrad)");
svg.append("rect").attr("x", 6).attr("y", 6).attr("width", 1544).attr("height", H)
  .attr("fill", "#faf6f6");

defs.append("clipPath").attr("id", "plotClip").append("rect")
  .attr("x", plot.left).attr("y", plot.top)
  .attr("width", plot.right - plot.left).attr("height", plot.bottom - plot.top);

const axisColor = "#5a5a5a";
const STRETCH = 1.15;
function styleAxis(g) {
  g.select(".domain").remove();
  g.selectAll(".tick line").attr("stroke", axisColor).attr("stroke-width", 1.5);
  g.selectAll(".tick text").remove();
}

// bottom: yearly ticks
svg.append("g").attr("transform", `translate(0,${plot.bottom})`)
  .call(d3.axisBottom(x).tickValues(yearTicks).tickSize(-18).tickSizeOuter(0))
  .call(styleAxis);
// top: days since epoch
svg.append("g").attr("transform", `translate(0,${plot.top})`)
  .call(d3.axisTop(xDays).tickValues(dayMajor).tickSize(-17).tickSizeOuter(0))
  .call(styleAxis);
svg.append("g").attr("transform", `translate(0,${plot.top})`)
  .call(d3.axisTop(xDays).tickValues(dayMinor.filter(d => d > xDays.domain()[0] && d < xDays.domain()[1])).tickSize(-9).tickSizeOuter(0))
  .call(styleAxis);
// left / right irradiance
svg.append("g").attr("transform", `translate(${plot.left},0)`)
  .call(d3.axisLeft(y).tickValues(irrMajor).tickSize(-27).tickSizeOuter(0)).call(styleAxis);
svg.append("g").attr("transform", `translate(${plot.left},0)`)
  .call(d3.axisLeft(y).tickValues(irrMinor).tickSize(-13).tickSizeOuter(0)).call(styleAxis);
svg.append("g").attr("transform", `translate(${plot.right},0)`)
  .call(d3.axisRight(y).tickValues(irrMajor).tickSize(-27).tickSizeOuter(0)).call(styleAxis);
svg.append("g").attr("transform", `translate(${plot.right},0)`)
  .call(d3.axisRight(y).tickValues(irrMinor).tickSize(-13).tickSizeOuter(0)).call(styleAxis);

// plot box
svg.append("rect")
  .attr("x", plot.left).attr("y", plot.top)
  .attr("width", plot.right - plot.left).attr("height", plot.bottom - plot.top)
  .attr("fill", "none").attr("stroke", axisColor).attr("stroke-width", 1.6);

// tick labels
const labelFont = 39;
svg.append("g").selectAll("text").data(yearLabelYears).join("text")
  .attr("transform", (d) => `translate(${x(d + 0.45)},1045) scale(${STRETCH},1)`)
  .attr("text-anchor", "middle").attr("font-size", labelFont).attr("fill", "#000")
  .text((d, i) => yearLabels[i]);
svg.append("g").selectAll("text").data(dayMajor).join("text")
  .attr("transform", (d) => `translate(${xDays(d)},90) scale(${STRETCH},1)`)
  .attr("text-anchor", "middle").attr("font-size", labelFont).attr("fill", "#000")
  .text((d) => d3.format("d")(d));
// the lowest label sits just above the bottom axis line
svg.append("g").selectAll("text").data(irrMajor).join("text")
  .attr("transform", (d, i) => `translate(182,${y(d) + (i === 0 ? 0 : 14)}) scale(${STRETCH},1)`)
  .attr("text-anchor", "end").attr("font-size", labelFont).attr("fill", "#000")
  .text((d) => d);

// axis titles
svg.append("text")
  .attr("transform", `translate(${(plot.left + plot.right) / 2},37) scale(${STRETCH},1)`)
  .attr("text-anchor", "middle").attr("font-size", labelFont).attr("fill", "#000")
  .text("Days (Epoch Jan 0, 1980)");
svg.append("text")
  .attr("transform", `translate(${(plot.left + plot.right) / 2},1083) scale(1.3,1)`)
  .attr("text-anchor", "middle").attr("font-size", 32).attr("fill", "#000")
  .text("Year");
const yTitle = svg.append("text")
  .attr("transform", `translate(46,549) scale(1.1,1) rotate(-90)`)
  .attr("text-anchor", "middle").attr("font-size", 40).attr("fill", "#000");
yTitle.append("tspan").text("Total Solar Irradiance (Wm");
yTitle.append("tspan").attr("font-size", 23).attr("dy", -16).text("-2");
yTitle.append("tspan").attr("dy", 16).text(")");

// data helpers
const toPoints = (start, step, vals) => vals.map((v, i) => ({ t: start + i * step, v }));
const line = d3.line()
  .defined((d) => d.v !== null)
  .x((d) => x(d.t))
  .y((d) => y(d.v));

const dataLayer = svg.append("g").attr("clip-path", "url(#plotClip)");

// ERBS crosses
const crossW = 11, crossH = 10;
dataLayer.append("path")
  .attr("d", erbs.map(([t, v]) => {
    const cx = x(t), cy = y(v);
    return `M${cx - crossW},${cy}H${cx + crossW}M${cx},${cy - crossH}V${cy + crossH}`;
  }).join(""))
  .attr("fill", "none").attr("stroke", "#22ee22").attr("stroke-width", 1.3);

const series = [
  { pts: toPoints(hfStart, sampleStep, hf), color: "#11ee11" },
  { pts: toPoints(acrim1aStart, sampleStep, acrim1a), color: "#ff0000" },
  { pts: toPoints(acrim1bStart, sampleStep, acrim1b), color: "#ff0000" },
  { pts: toPoints(acrim23Start, sampleStep, acrim23), color: "#ff00ff" },
  { pts: toPoints(virgoStart, sampleStep, virgo), color: "#0000ff" },
  { pts: toPoints(sova2Start, sampleStep, sova2), color: "#0000ff" }
];
dataLayer.selectAll("path.series").data(series).join("path")
  .attr("class", "series")
  .attr("d", (d) => line(d.pts))
  .attr("fill", "none")
  .attr("stroke", (d) => d.color)
  .attr("stroke-width", 1.25)
  .attr("stroke-linejoin", "bevel");

dataLayer.selectAll("circle.stray").data(acrim1Stray).join("circle")
  .attr("class", "stray")
  .attr("cx", (d) => x(d[0])).attr("cy", (d) => y(d[1])).attr("r", 1.6)
  .attr("fill", "#ff0000");

// series names
const nameSpecs = [
  { year: 1985.00, value: 1372.97, color: "#1edc1e" },
  { year: 1985.75, value: 1368.15, color: "#e8181a" },
  { year: 1993.18, value: 1368.40, color: "#e61ee6" },
  { year: 1992.35, value: 1365.20, color: "#1414c8" },
  { year: 1996.05, value: 1364.00, color: "#1414c8" },
  { year: 1986.70, value: 1363.50, color: "#1edc1e" }
];
svg.append("g").selectAll("text").data(seriesNames).join("text")
  .attr("transform", (d, i) => `translate(${x(nameSpecs[i].year)},${y(nameSpecs[i].value)}) scale(${STRETCH},1)`)
  .attr("font-size", 31)
  .attr("fill", (d, i) => nameSpecs[i].color)
  .text((d) => d);
</script>
</body>
</html>
